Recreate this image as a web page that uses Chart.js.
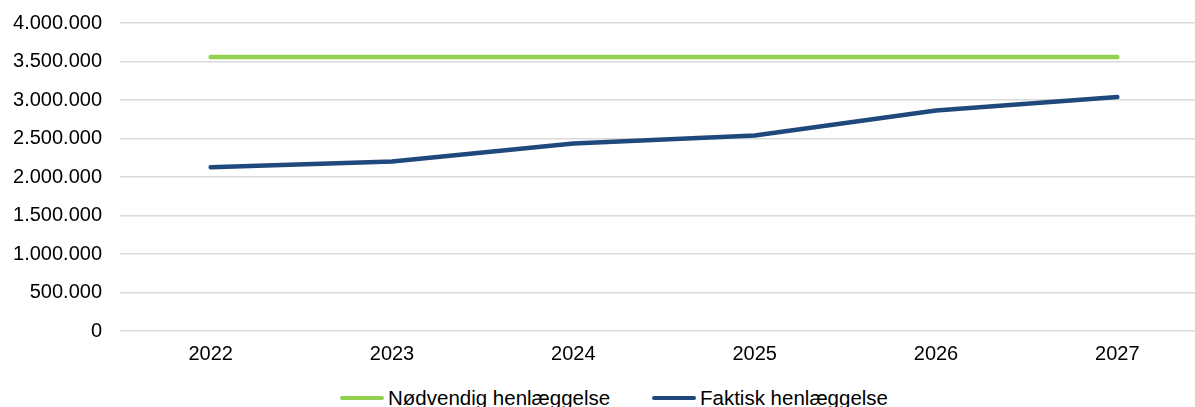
<!DOCTYPE html>
<html>
<head>
<meta charset="utf-8">
<script src="https://cdn.jsdelivr.net/npm/chart.js@4.4.1/dist/chart.umd.min.js"></script>
<style>
  html, body { margin: 0; padding: 0; background: #fff; overflow: hidden; }
  body { position: relative; width: 1195px; height: 407px; }
  #wrap { position: absolute; left: 0; top: 0; width: 1210px; height: 377px; }
  .leg { position: absolute; top: 386px; height: 24px; display: flex; align-items: center;
         font-family: 'Liberation Sans', Arial, sans-serif; font-size: 20.5px; color: #000; white-space: nowrap; }
  .leg i { display: inline-block; width: 44px; height: 4.5px; border-radius: 3px; margin-right: 4px; }
</style>
</head>
<body>
<div id="wrap"><canvas id="graf"></canvas></div>
<div id="legende"></div>
<script>
const aar = ['2022', '2023', '2024', '2025', '2026', '2027'];
const noedvendig = [3560000, 3560000, 3560000, 3560000, 3560000, 3560000];
const faktisk = [2127000, 2200000, 2436000, 2540000, 2863000, 3038000];
const yMax = 4000000;
const yStep = 500000;

// tusindtalsseparator med punktum
function fmt(v) {
  return String(v).replace(/\B(?=(\d{3})+(?!\d))/g, '.');
}

const ctx = document.getElementById('graf').getContext('2d');
const chart = new Chart(ctx, {
  type: 'line',
  data: {
    labels: aar,
    datasets: [{
      label: 'Nødvendig henlæggelse',
      data: noedvendig,
      borderColor: '#92d050',
      backgroundColor: '#92d050',
      borderWidth: 4.5,
      borderCapStyle: 'round',
      pointRadius: 0,
      tension: 0
    }, {
      label: 'Faktisk henlæggelse',
      data: faktisk,
      borderColor: '#1f497d',
      backgroundColor: '#1f497d',
      borderWidth: 4.5,
      borderCapStyle: 'round',
      borderJoinStyle: 'round',
      pointRadius: 0,
      tension: 0
    }]
  },
  options: {
    responsive: true,
    maintainAspectRatio: false,
    animation: false,
    layout: { padding: { top: 23, right: 2, left: 0, bottom: 0 } },
    plugins: {
      tooltip: { enabled: false },
      legend: { display: false }
    },
    scales: {
      x: {
        offset: true,
        grid: { display: false, drawTicks: false },
        border: { display: false },
        ticks: {
          color: '#000',
          padding: 11,
          font: { family: 'Liberation Sans, Arial', size: 20 }
        }
      },
      y: {
        min: 0,
        max: yMax,
        afterFit: function (s) {
          s.width = 120;
          s.paddingTop = 0;
          s.paddingBottom = 0;
        },
        grid: { color: '#d9d9d9', lineWidth: 1.5, drawTicks: false },
        border: { display: false },
        ticks: {
          stepSize: yStep,
          color: '#000',
          padding: 18,
          font: { family: 'Liberation Sans, Arial', size: 20 },
          callback: function (v) { return fmt(v); }
        }
      }
    }
  }
});

// legende som html, placeret som i forlaegget
const legX = [340, 652];
chart.data.datasets.forEach(function (ds, i) {
  const d = document.createElement('div');
  d.className = 'leg';
  d.style.left = legX[i] + 'px';
  const m = document.createElement('i');
  m.style.background = ds.borderColor;
  d.appendChild(m);
  d.appendChild(document.createTextNode(ds.label));
  document.getElementById('legende').appendChild(d);
});
</script>
</body>
</html>
